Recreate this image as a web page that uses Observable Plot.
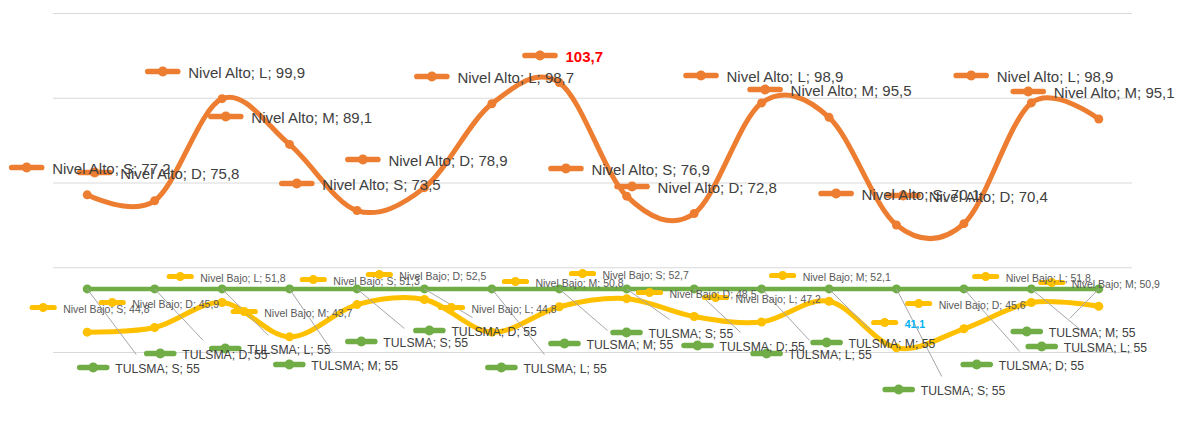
<!DOCTYPE html>
<html>
<head>
<meta charset="utf-8">
<script src="https://cdn.jsdelivr.net/npm/d3@7"></script>
<script src="https://cdn.jsdelivr.net/npm/@observablehq/plot@0.6"></script>
<style>
  html, body { margin: 0; padding: 0; background: #ffffff; }
  #chart svg { display: block; }
</style>
</head>
<body>
<div id="chart"></div>
<script>
// ---------- DATA ----------
const days = ["S","D","L","M","S","D","L","M","S","D","L","M","S","D","L","M"];
const nivelAlto = [77.2, 75.8, 99.9, 89.1, 73.5, 78.9, 98.7, 103.7, 76.9, 72.8, 98.9, 95.5, 70.1, 70.4, 98.9, 95.1];
const nivelBajo = [44.8, 45.9, 51.8, 43.7, 51.3, 52.5, 44.8, 50.8, 52.7, 48.5, 47.2, 52.1, 41.1, 45.6, 51.8, 50.9];
const tulsma    = [55, 55, 55, 55, 55, 55, 55, 55, 55, 55, 55, 55, 55, 55, 55, 55];
const seriesNames = ["Nivel Alto", "Nivel Bajo", "TULSMA"];
const gridTicks = [40, 60, 80, 100, 120];

// ---------- LABEL LAYOUT (data space: x = category index, y = value units) ----------
const altoLabX = [-0.898, 0.111, 1.120, 2.055, 3.108, 4.088, 5.111, 6.714, 7.099, 8.079, 9.102, 10.052, 11.105, 12.099, 13.108, 13.954];
const altoLabY = [83.66, 82.48, 106.31, 95.69, 79.88, 85.55, 105.13, 110.09, 83.42, 79.17, 105.37, 102.06, 77.52, 77.05, 105.37, 101.59];
const bajoLabX = [-0.653, 0.371, 1.380, 2.329, 3.353, 4.332, 5.401, 6.350, 7.344, 8.338, 9.318, 10.312, 11.825, 12.329, 13.323, 14.303];
const bajoLabY = [50.62, 51.80, 57.94, 49.68, 57.23, 58.41, 50.62, 56.76, 58.64, 54.16, 52.98, 58.17, 47.08, 51.56, 57.94, 56.52];
const tulLabX  = [0.089, 1.083, 2.047, 2.997, 4.065, 5.074, 6.142, 7.077, 7.997, 9.050, 10.074, 10.964, 12.033, 13.190, 14.154, 13.932];
const tulLabY  = [36.46, 39.76, 40.94, 37.17, 42.60, 45.19, 36.46, 42.12, 44.72, 41.65, 39.76, 42.36, 31.27, 37.17, 41.42, 44.96];

// ---------- STYLE ----------
const C_ALTO = "#ED7D31", C_BAJO = "#FFC000", C_TUL = "#70AD47";
const FONT = "Liberation Sans, Arial, sans-serif";

const fmt = v => Number.isInteger(v) ? String(v) : v.toFixed(1).replace(".", ",");

function rows(vals, name, lx, ly) {
  return vals.map((v, i) => ({
    i, v, day: days[i], lx: lx[i], ly: ly[i],
    label: `${name}; ${days[i]}; ${fmt(v)}`
  }));
}
const alto = rows(nivelAlto, seriesNames[0], altoLabX, altoLabY);
const bajo = rows(nivelBajo, seriesNames[1], bajoLabX, bajoLabY);
const tul  = rows(tulsma, seriesNames[2], tulLabX, tulLabY);

// highlighted labels (max of Nivel Alto, min of Nivel Bajo)
const altoMaxI = nivelAlto.indexOf(d3.max(nivelAlto));
const bajoMinI = nivelBajo.indexOf(d3.min(nivelBajo));

// legend-key symbol: thick rounded line with a dot in the middle
function keySymbol(half, h, r) {
  return {
    draw(ctx) {
      ctx.moveTo(-half, -h);
      ctx.lineTo(half, -h);
      ctx.arc(half, 0, h, -Math.PI / 2, Math.PI / 2);
      ctx.lineTo(-half, h);
      ctx.arc(-half, 0, h, Math.PI / 2, 3 * Math.PI / 2);
      ctx.closePath();
      ctx.moveTo(r, 0);
      ctx.arc(0, 0, r, 0, 2 * Math.PI);
    }
  };
}

function labelMarks(data, color, keyHalf, keyH, keyR, dx, fontSize, textColor, specialI, specialColor) {
  const normal = specialI == null ? data : data.filter(d => d.i !== specialI);
  const marks = [
    Plot.dot(data, {x: "lx", y: "ly", symbol: keySymbol(keyHalf, keyH, keyR), r: 5, fill: color, stroke: "none"}),
    Plot.text(normal, {x: "lx", y: "ly", text: "label", dx, dy: 2, textAnchor: "start", lineAnchor: "middle",
      fontSize, fontFamily: FONT, fill: textColor})
  ];
  if (specialI != null) {
    marks.push(Plot.text(data.filter(d => d.i === specialI), {x: "lx", y: "ly", text: d => fmt(d.v), dx, dy: 2,
      textAnchor: "start", lineAnchor: "middle", fontSize, fontWeight: "bold", fontFamily: FONT, fill: specialColor}));
  }
  return marks;
}

const lineOpts = (color, w) => ({x: "i", y: "v", stroke: color, strokeWidth: w, curve: "cardinal", tension: 0,
  strokeLinejoin: "round", strokeLinecap: "round"});

const chart = Plot.plot({
  width: 1179,
  height: 432,
  marginLeft: 53,
  marginRight: 47,
  marginTop: 13,
  marginBottom: 80,
  x: {type: "linear", domain: [-0.5, 15.5], axis: null},
  y: {type: "linear", domain: [40, 120], axis: null},
  style: {background: "#ffffff", overflow: "visible"},
  marks: [
    Plot.ruleY(gridTicks, {stroke: "#d9d9d9", strokeWidth: 1.2}),
    Plot.line(alto, lineOpts(C_ALTO, 5)),
    Plot.dot(alto, {x: "i", y: "v", r: 4.5, fill: C_ALTO}),
    Plot.line(bajo, lineOpts(C_BAJO, 5)),
    Plot.dot(bajo, {x: "i", y: "v", r: 4.5, fill: C_BAJO}),
    Plot.line(tul, lineOpts(C_TUL, 4.5)),
    Plot.dot(tul, {x: "i", y: "v", r: 4.5, fill: C_TUL}),
    // leader lines from TULSMA points to their labels
    Plot.link(tul, {x1: "i", y1: "v", x2: d => d.lx + 0.638, y2: d => d.ly + 3.07, stroke: "#a6a6a6", strokeWidth: 1}),
    ...labelMarks(alto, C_ALTO, 15, 2.8, 5, 25.5, 15, "#404040", altoMaxI, "#FF0000"),
    ...labelMarks(bajo, C_BAJO, 11, 2.6, 4.5, 20, 10.5, "#595959", bajoMinI, "#00B0F0"),
    ...labelMarks(tul, C_TUL, 13.5, 2.8, 5, 22, 12.2, "#404040", null, null)
  ]
});
document.getElementById("chart").appendChild(chart);
</script>
</body>
</html>
